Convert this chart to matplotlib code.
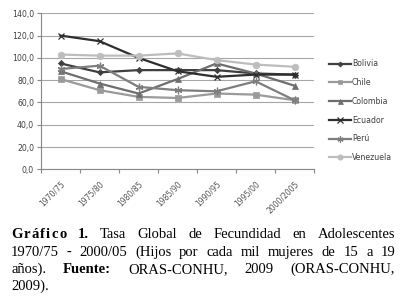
# plot.py
import matplotlib
matplotlib.use("Agg")
import matplotlib.pyplot as plt
from matplotlib.ticker import FixedLocator, FuncFormatter

periods = ["1970/75", "1975/80", "1980/85", "1985/90", "1990/95", "1995/00", "2000/2005"]

bolivia = [95, 87, 89, 89, 89, 86, 85]
chile = [81, 71, 65, 64, 68, 67, 62]
colombia = [88, 77, 68, 81, 95, 86, 75]
ecuador = [120, 115, 100, 88, 83, 85, 85]
peru = [90, 93, 74, 71, 70, 79, 62]
venezuela = [103, 102, 102, 104, 98, 94, 92]

y_ticks = [0, 20, 40, 60, 80, 100, 120, 140]

series = [
    ("Bolivia", bolivia, "#3f3f3f", "D", 3.2),
    ("Chile", chile, "#9a9a9a", "s", 4.2),
    ("Colombia", colombia, "#6e6e6e", "^", 4.5),
    ("Ecuador", ecuador, "#2e2e2e", "x", 5.0),
    ("Perú", peru, "#7e7e7e", (6, 2, 0), 5.5),
    ("Venezuela", venezuela, "#bdbdbd", "o", 4.8),
]

# (text, bold, extra letter spacing in px)
caption = [
    [("Gráfico", True, 1.2), ("1.", True, 0), ("Tasa Global de Fecundidad en Adolescentes", False, 0)],
    [("1970/75 - 2000/05 (Hijos por cada mil mujeres de 15 a 19", False, 0)],
    [("años).", False, 0), ("Fuente:", True, 0), ("ORAS-CONHU, 2009 (ORAS-CONHU,", False, 0)],
    [("2009).", False, 0)],
]

W, H = 400, 300
fig = plt.figure(figsize=(4, 3), dpi=100)
ax = fig.add_axes([41 / W, 1 - 169.3 / H, (314 - 41) / W, (169.3 - 13.3) / H])

x = list(range(len(periods)))
handles = []
for name, vals, col, mk, ms in series:
    mew = 0.9 if mk == "x" or isinstance(mk, tuple) else 0.5
    h, = ax.plot(x, vals, color=col, lw=1.6, marker=mk, ms=ms,
                 mec=col, mfc=col, mew=mew, label=name)
    handles.append(h)

ax.set_xlim(-0.5, len(periods) - 0.5)
ax.set_ylim(0, 140)
ax.set_yticks(y_ticks)
ax.yaxis.set_major_formatter(FuncFormatter(lambda v, p: f"{v:.1f}".replace(".", ",")))
ax.set_xticks(x)
ax.set_xticklabels(periods, rotation=45, ha="right", va="top", rotation_mode="anchor")
ax.xaxis.set_minor_locator(FixedLocator([i + 0.5 for i in range(-1, len(periods))]))
ax.tick_params(axis="x", which="major", length=0, pad=7, labelsize=5.5, colors="#555555")
ax.tick_params(axis="x", which="minor", length=3, width=0.8, color="#888888", direction="out")
ax.tick_params(axis="y", length=3, width=0.8, color="#888888", labelsize=5.6,
               labelcolor="#404040", pad=2)
ax.grid(axis="y", color="#a6a6a6", lw=0.8)
ax.set_axisbelow(True)
for s in ("top", "right"):
    ax.spines[s].set_visible(False)
for s in ("left", "bottom"):
    ax.spines[s].set_color("#888888")
    ax.spines[s].set_linewidth(0.8)

fig.legend(handles=handles, loc="center left", bbox_to_anchor=(329 / W, 1 - 110.7 / H),
           frameon=False, fontsize=5.6, labelspacing=1.25, handlelength=2.8,
           handletextpad=0.15, borderpad=0, borderaxespad=0, markerscale=0.8,
           labelcolor="#404040")

# justified caption in a serif face
renderer = fig.canvas.get_renderer()
cap_font = "Liberation Serif"
cap_size = 10.5
x0, x1 = 11, 395
baselines = [238, 256, 273, 290]


def measure(txt, bold):
    t = fig.text(0, 0, txt, family=cap_font, size=cap_size,
                 weight="bold" if bold else "normal")
    w = t.get_window_extent(renderer).width
    t.remove()
    return w


def word_width(w, bold, track):
    if track:
        return sum(measure(c, bold) for c in w) + track * (len(w) - 1)
    return measure(w, bold)


def draw_word(xp, y, w, bold, track):
    wt = "bold" if bold else "normal"
    if track:
        for c in w:
            fig.text(xp / W, 1 - y / H, c, family=cap_font, size=cap_size,
                     weight=wt, va="baseline", ha="left", color="black")
            xp += measure(c, bold) + track
    else:
        fig.text(xp / W, 1 - y / H, w, family=cap_font, size=cap_size,
                 weight=wt, va="baseline", ha="left", color="black")


for i, parts in enumerate(caption):
    words = []
    for txt, bold, track in parts:
        for w in txt.split(" "):
            words.append((w, bold, track))
    widths = [word_width(*wd) for wd in words]
    justify = i < len(caption) - 1
    if justify and len(words) > 1:
        gap = (x1 - x0 - sum(widths)) / (len(words) - 1)
    else:
        gap = measure(" ", False)
    xp = x0
    for (w, b, tr), wd in zip(words, widths):
        draw_word(xp, baselines[i], w, b, tr)
        xp += wd + gap

fig.savefig("out.png", dpi=100)
